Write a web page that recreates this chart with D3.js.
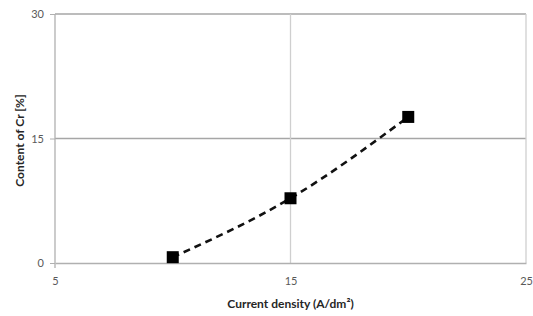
<!DOCTYPE html>
<html><head><meta charset="utf-8">
<script src="https://cdn.jsdelivr.net/npm/d3@7"></script>
<style>
body{margin:0;background:#fff;}
text{font-family:Lato,"Open Sans",sans-serif;}
</style></head>
<body><svg id="c" width="533" height="316"></svg>
<script>
const currentDensity = [10, 15, 20];
const crContent = [0.7, 7.8, 17.6];
const xTicks = [5, 15, 25];
const yTicks = [0, 15, 30];
const xTitle = "Current density (A/dm²)";
const yTitle = "Content of Cr [%]";

const svg = d3.select("#c");
const L = 55, R = 526, T = 14, B = 263;
const x = d3.scaleLinear().domain([5, 25]).range([L, R]);
const y = d3.scaleLinear().domain([0, 30]).range([B, T]);

svg.append("g").selectAll("line").data(yTicks.filter(d => d > 0)).join("line")
  .attr("x1", L).attr("x2", R).attr("y1", d => y(d)).attr("y2", d => y(d))
  .attr("stroke", "#a6a6a6").attr("stroke-width", 1.3);
svg.append("g").selectAll("line").data(xTicks.filter(d => d > 5)).join("line")
  .attr("x1", d => x(d)).attr("x2", d => x(d)).attr("y1", T).attr("y2", B)
  .attr("stroke", "#cfcfcf").attr("stroke-width", 1.3);

const ya = svg.append("g").attr("transform", `translate(${L},0)`)
  .call(d3.axisLeft(y).tickValues(yTicks).tickSize(5).tickPadding(6));
ya.select(".domain").attr("stroke", "#b0b0b0").attr("stroke-width", 1.3)
  .attr("d", `M0,${B+5}V${T}`);
ya.selectAll(".tick line").attr("stroke", "#b0b0b0");
ya.selectAll(".tick text").attr("fill", "#595959").style("font-size", "11px");

const xa = svg.append("g").attr("transform", `translate(0,${B})`)
  .call(d3.axisBottom(x).tickValues(xTicks).tickSize(0).tickPadding(14));
xa.select(".domain").attr("stroke", "#b0b0b0").attr("stroke-width", 1.3);
xa.selectAll(".tick text").attr("fill", "#595959").style("font-size", "11px");

const pts = currentDensity.map((d, i) => [d, crContent[i]]);
svg.append("path").datum(pts)
  .attr("d", d3.line().x(d => x(d[0])).y(d => y(d[1])).curve(d3.curveMonotoneX))
  .attr("fill", "none").attr("stroke", "#111").attr("stroke-width", 2.6)
  .attr("stroke-dasharray", "7,5");

const s = 12;
svg.append("g").selectAll("rect").data(pts).join("rect")
  .attr("x", d => x(d[0]) - s/2).attr("y", d => y(d[1]) - s/2)
  .attr("width", s).attr("height", s).attr("fill", "#000");

svg.append("text").attr("x", (L + R) / 2).attr("y", 308).attr("text-anchor", "middle")
  .attr("font-weight", "bold").attr("font-size", 12).attr("fill", "#262626").text(xTitle);
svg.append("text").attr("transform", `translate(24,${(T + B) / 2 + 2}) rotate(-90)`)
  .attr("text-anchor", "middle").attr("font-weight", "bold").attr("font-size", 12)
  .attr("fill", "#262626").text(yTitle);
</script></body></html>
